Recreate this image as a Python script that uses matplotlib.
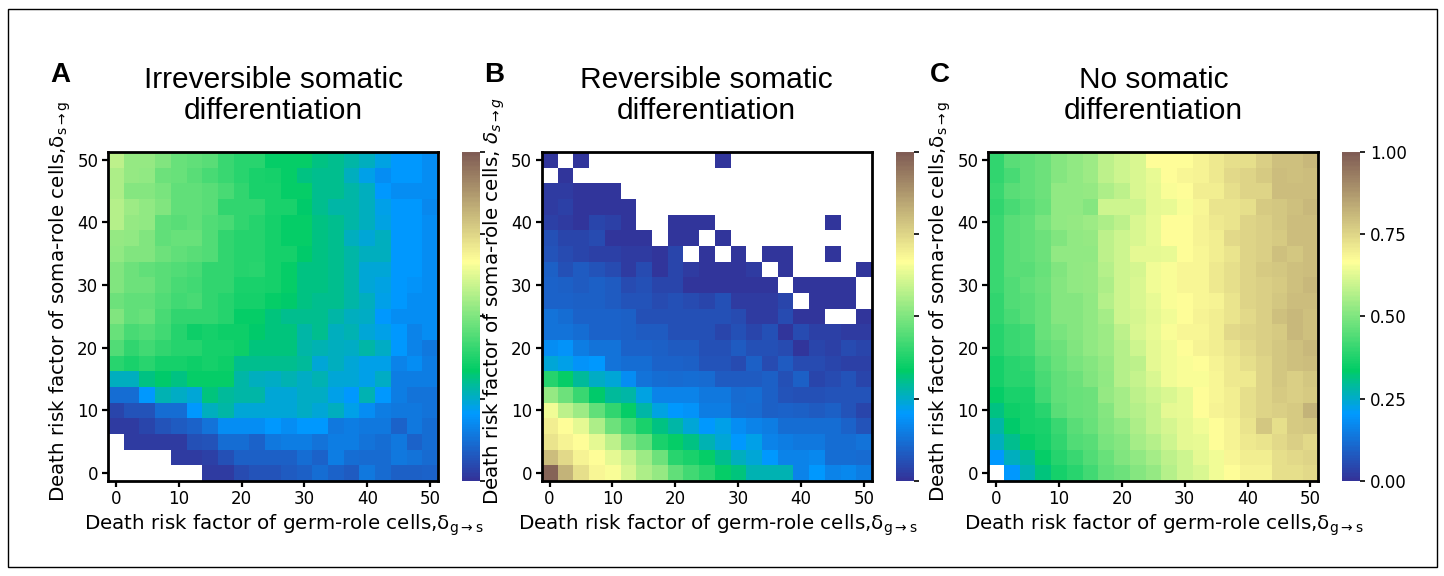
import numpy as np
import matplotlib
matplotlib.use("Agg")
import matplotlib.pyplot as plt
from matplotlib.colors import ListedColormap
from matplotlib.patches import Rectangle

plt.rcParams["font.family"] = ["DejaVu Sans"]
plt.rcParams["mathtext.fontset"] = "dejavusans"

nan = np.nan

# grid of death risk factors (x: germ-role, y: soma-role)
delta = np.arange(0, 50.1, 2.5)

# rows listed from top (delta_s = 50) to bottom (delta_s = 0)
irreversible = [
    [.58, .53, .53, .50, .47, .46, .45, .41, .39, .39, .34, .34, .34, .31, .30, .28, .26, .23, .20, .20, .18],
    [.56, .53, .52, .48, .47, .45, .43, .41, .39, .37, .36, .34, .31, .30, .30, .26, .22, .18, .20, .20, .18],
    [.56, .51, .51, .49, .46, .46, .45, .43, .40, .37, .37, .34, .34, .30, .30, .28, .26, .20, .18, .18, .18],
    [.57, .54, .52, .50, .46, .46, .45, .40, .40, .40, .37, .37, .33, .30, .28, .28, .26, .22, .20, .20, .17],
    [.57, .53, .52, .46, .45, .46, .44, .43, .40, .38, .36, .34, .34, .31, .30, .28, .26, .23, .20, .20, .18],
    [.53, .52, .50, .46, .47, .47, .44, .40, .38, .38, .36, .34, .34, .31, .30, .26, .24, .26, .20, .20, .18],
    [.52, .50, .50, .48, .46, .45, .44, .40, .38, .38, .36, .36, .33, .31, .30, .28, .26, .26, .20, .20, .18],
    [.50, .48, .46, .45, .44, .43, .40, .40, .38, .39, .36, .34, .31, .31, .30, .28, .24, .24, .20, .20, .18],
    [.50, .48, .48, .45, .43, .42, .40, .40, .37, .37, .36, .34, .31, .31, .30, .28, .24, .23, .20, .19, .18],
    [.48, .46, .46, .44, .42, .43, .40, .38, .36, .36, .34, .33, .31, .30, .30, .28, .26, .22, .20, .18, .18],
    [.50, .46, .47, .43, .40, .40, .40, .38, .34, .34, .32, .30, .30, .30, .28, .26, .25, .20, .18, .18, .18],
    [.47, .43, .44, .42, .38, .35, .36, .35, .35, .33, .32, .32, .28, .30, .26, .27, .24, .22, .20, .16, .18],
    [.44, .40, .42, .40, .38, .38, .36, .36, .35, .32, .32, .32, .28, .27, .26, .25, .28, .25, .20, .16, .14],
    [.39, .37, .39, .36, .36, .35, .36, .35, .30, .30, .30, .30, .29, .24, .26, .24, .22, .22, .16, .18, .15],
    [.26, .26, .31, .33, .31, .34, .34, .34, .28, .26, .25, .27, .25, .27, .24, .24, .22, .25, .15, .15, .15],
    [.12, .12, .20, .27, .25, .24, .32, .29, .28, .28, .24, .24, .25, .25, .22, .20, .27, .20, .15, .13, .13],
    [.04, .07, .07, .12, .12, .20, .26, .28, .24, .24, .24, .24, .25, .24, .26, .22, .18, .15, .14, .14, .13],
    [.02, .02, .04, .07, .08, .10, .13, .18, .18, .18, .20, .18, .20, .20, .14, .15, .14, .14, .10, .14, .12],
    [nan, .02, .02, .02, .02, .06, .07, .12, .12, .10, .14, .15, .15, .13, .15, .15, .13, .12, .14, .10, .12],
    [nan, nan, nan, nan, .02, .02, .03, .06, .09, .09, .09, .09, .12, .10, .15, .12, .11, .11, .14, .13, .11],
    [nan, nan, nan, nan, nan, nan, .02, .02, .05, .07, .07, .08, .09, .12, .10, .08, .14, .11, .09, .09, .10],
]

reversible = [
    [.01, nan, .01, nan, nan, nan, nan, nan, nan, nan, nan, .01, nan, nan, nan, nan, nan, nan, nan, nan, nan],
    [nan, .01, nan, nan, nan, nan, nan, nan, nan, nan, nan, nan, nan, nan, nan, nan, nan, nan, nan, nan, nan],
    [.02, .02, .01, .01, .01, nan, nan, nan, nan, nan, nan, nan, nan, nan, nan, nan, nan, nan, nan, nan, nan],
    [.02, .03, .01, .01, .01, .01, nan, nan, nan, nan, nan, nan, nan, nan, nan, nan, nan, nan, nan, nan, nan],
    [.03, .02, .01, .04, .03, .01, nan, nan, .01, .01, .01, nan, nan, nan, nan, nan, nan, nan, .01, nan, nan],
    [.06, .04, .04, .05, .01, .01, .01, nan, .01, .01, nan, .01, nan, nan, nan, nan, nan, nan, nan, nan, nan],
    [.07, .05, .04, .03, .03, .02, .02, .01, .04, nan, .01, nan, .01, nan, .01, .01, nan, nan, .01, nan, nan],
    [.09, .06, .08, .07, .05, .02, .05, .01, .04, .02, .01, .01, .01, .02, nan, .01, nan, nan, nan, nan, .01],
    [.10, .09, .08, .09, .08, .05, .06, .04, .04, .01, .01, .01, .01, .01, .01, nan, .01, .01, .01, .01, nan],
    [.10, .10, .09, .09, .08, .07, .07, .05, .06, .05, .04, .06, .02, .02, .02, .04, nan, .01, .01, .01, nan],
    [.13, .12, .10, .10, .10, .09, .06, .06, .06, .06, .06, .06, .05, .02, .02, .05, .01, .01, nan, nan, .01],
    [.13, .13, .12, .10, .10, .09, .08, .08, .06, .06, .06, .04, .06, .04, .06, .01, .05, .03, .03, .02, .02],
    [.18, .19, .15, .13, .13, .10, .10, .09, .08, .08, .06, .06, .08, .06, .06, .05, .01, .04, .03, .05, .04],
    [.24, .22, .19, .20, .13, .12, .12, .10, .10, .09, .07, .07, .05, .09, .05, .08, .05, .05, .04, .03, .03],
    [.38, .34, .29, .25, .24, .18, .13, .12, .11, .12, .11, .08, .08, .08, .09, .06, .09, .04, .05, .07, .04],
    [.53, .48, .41, .33, .29, .28, .23, .16, .16, .16, .14, .14, .11, .12, .09, .07, .06, .06, .07, .07, .07],
    [.65, .58, .54, .46, .40, .34, .28, .23, .20, .19, .15, .15, .12, .11, .09, .10, .09, .08, .09, .07, .04],
    [.70, .67, .63, .56, .48, .42, .37, .31, .28, .24, .20, .22, .18, .16, .15, .12, .12, .12, .12, .10, .07],
    [.72, .69, .67, .63, .58, .50, .46, .37, .34, .31, .27, .24, .20, .22, .16, .15, .14, .14, .12, .12, .13],
    [.80, .74, .69, .67, .63, .59, .54, .48, .39, .37, .34, .30, .26, .24, .20, .16, .16, .17, .12, .12, .11],
    [.98, .82, .73, .68, .66, .61, .56, .53, .46, .42, .39, .34, .32, .27, .27, .27, .16, .20, .16, .17, .15],
]

no_diff = [
    [.40, .45, .46, .48, .51, .52, .54, .58, .60, .62, .67, .67, .67, .69, .71, .73, .73, .76, .79, .79, .81],
    [.40, .43, .46, .48, .51, .52, .54, .58, .60, .62, .64, .67, .68, .69, .71, .74, .75, .77, .80, .79, .80],
    [.41, .45, .46, .48, .52, .52, .53, .56, .58, .62, .63, .66, .67, .70, .70, .73, .75, .75, .80, .80, .80],
    [.40, .43, .45, .47, .52, .52, .51, .60, .60, .60, .63, .64, .66, .68, .72, .72, .73, .77, .78, .79, .81],
    [.41, .45, .46, .49, .52, .53, .54, .56, .58, .62, .64, .67, .67, .69, .71, .72, .75, .76, .78, .80, .80],
    [.41, .45, .46, .48, .50, .52, .53, .58, .60, .62, .64, .67, .67, .69, .70, .74, .75, .76, .77, .80, .80],
    [.41, .45, .46, .48, .52, .52, .52, .58, .60, .63, .63, .64, .67, .68, .70, .72, .75, .76, .79, .78, .80],
    [.41, .45, .45, .47, .50, .52, .53, .57, .60, .61, .65, .66, .68, .68, .71, .73, .75, .77, .78, .79, .80],
    [.41, .44, .46, .48, .51, .52, .53, .56, .60, .62, .65, .66, .68, .68, .71, .73, .75, .76, .77, .79, .81],
    [.40, .44, .45, .47, .51, .51, .52, .57, .60, .62, .64, .66, .67, .68, .69, .72, .75, .76, .78, .80, .80],
    [.40, .43, .45, .47, .51, .51, .52, .55, .60, .61, .63, .65, .67, .69, .70, .72, .74, .76, .79, .81, .79],
    [.38, .41, .42, .47, .49, .51, .52, .54, .58, .62, .64, .66, .68, .68, .70, .74, .75, .76, .77, .81, .79],
    [.38, .41, .42, .46, .48, .50, .52, .54, .57, .60, .63, .65, .67, .69, .70, .72, .74, .76, .78, .79, .81],
    [.36, .39, .40, .44, .47, .49, .51, .53, .57, .58, .63, .65, .66, .67, .69, .71, .73, .75, .78, .79, .80],
    [.36, .39, .39, .43, .46, .48, .50, .52, .57, .59, .62, .65, .66, .66, .68, .71, .71, .75, .78, .76, .78],
    [.34, .37, .37, .42, .46, .47, .48, .53, .55, .58, .60, .62, .64, .67, .68, .70, .73, .75, .77, .76, .77],
    [.31, .35, .36, .39, .45, .47, .48, .51, .55, .57, .59, .63, .64, .67, .69, .70, .73, .75, .76, .77, .82],
    [.28, .33, .36, .37, .41, .45, .47, .50, .52, .56, .59, .61, .63, .65, .67, .69, .72, .78, .73, .77, .78],
    [.26, .30, .34, .36, .40, .44, .45, .49, .51, .55, .57, .60, .63, .64, .67, .69, .71, .72, .74, .76, .74],
    [.20, .26, .29, .34, .38, .41, .44, .47, .50, .52, .55, .58, .60, .63, .65, .68, .70, .70, .73, .74, .75],
    [nan, .20, .27, .32, .36, .39, .42, .46, .48, .51, .53, .57, .60, .62, .65, .67, .69, .69, .73, .73, .74],
]

titles = ["Irreversible somatic\ndifferentiation",
          "Reversible somatic\ndifferentiation",
          "No somatic\ndifferentiation"]
letters = ["A", "B", "C"]
xlab = r"Death risk factor of germ-role cells,δ$_{\mathregular{g\rightarrow s}}$"
ylabs = [r"Death risk factor of soma-role cells,δ$_{\mathregular{s\rightarrow g}}$",
         r"Death risk factor of soma-role cells, $\delta_{s\rightarrow g}$",
         r"Death risk factor of soma-role cells,δ$_{\mathregular{s\rightarrow g}}$"]
cbar_ticks = [0, 0.25, 0.5, 0.75, 1.0]

W, H = 1444, 576
terrain = plt.get_cmap("terrain")
cmap = ListedColormap(terrain(np.linspace(0, 0.75, 256)))
cmap.set_bad("white")

fig = plt.figure(figsize=(W / 100, H / 100), dpi=100)

# thin frame around the whole figure
fig.patches.append(Rectangle((8 / W, 9 / H), 1429 / W, 558 / H, transform=fig.transFigure,
                             fill=False, edgecolor="black", linewidth=1))

ax_left = [108, 541.7, 988.3]
ax_top, ax_bot = 152, 480.7
step = delta[1] - delta[0]
ext = (delta[0] - step / 2, delta[-1] + step / 2, delta[0] - step / 2, delta[-1] + step / 2)

for i, data in enumerate([irreversible, reversible, no_diff]):
    left = ax_left[i]
    ax = fig.add_axes([left / W, 1 - ax_bot / H, 330 / W, (ax_bot - ax_top) / H])
    z = np.array(data)[::-1]
    im = ax.imshow(z, cmap=cmap, vmin=0, vmax=1, origin="lower", extent=ext,
                   aspect="auto", interpolation="nearest")
    ax.set_xticks([0, 10, 20, 30, 40, 50])
    ax.set_yticks([0, 10, 20, 30, 40, 50])
    ax.tick_params(labelsize=12, width=1.6, length=4, pad=3)
    for s in ax.spines.values():
        s.set_linewidth(2)
    ax.set_xlabel(xlab, fontsize=14.3, labelpad=3)
    ax.set_ylabel(ylabs[i], fontsize=14.3, labelpad=3)
    ax.xaxis.label.set_x(0.533)
    ax.yaxis.label.set_y(0.545)
    ax.set_title(titles[i], fontsize=21.5, family="Liberation Sans", pad=24, linespacing=1.1)

    cax = fig.add_axes([(left + 354) / W, 1 - ax_bot / H, 18 / W, (ax_bot - ax_top) / H])
    cb = fig.colorbar(im, cax=cax, ticks=cbar_ticks)
    cb.outline.set_visible(False)
    cax.tick_params(labelsize=12, width=1.2, length=3.5)
    if i < 2:
        cax.set_yticklabels([])
    else:
        cax.set_yticklabels(["%.2f" % t for t in cbar_ticks])

    fig.text((left - 58) / W, 1 - 82 / H, letters[i], fontsize=20, fontweight="bold",
             family="Liberation Sans", ha="left", va="baseline")

fig.savefig("out.png", dpi=100)
